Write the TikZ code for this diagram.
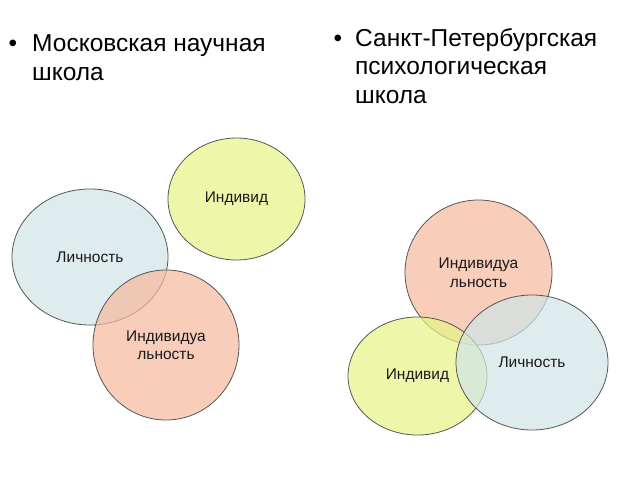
\documentclass[tikz,border=0pt]{standalone}
\usepackage{fontspec}
\setmainfont{Liberation Sans}
\usetikzlibrary{shapes.geometric}
\definecolor{lichn}{RGB}{208,229,232}
\definecolor{indiv}{RGB}{231,245,133}
\definecolor{indun}{RGB}{246,185,157}
\definecolor{rim}{RGB}{85,85,85}

\begin{document}
\begin{tikzpicture}[x=1pt,y=-1pt,
  sphere/.style={ellipse,draw=rim,line width=0.8pt,fill opacity=0.7,text opacity=1,
    inner sep=0pt,align=center,text=black!90,font=\fontsize{15.5}{18.5}\selectfont},
  head/.style={anchor=base west,inner sep=0pt,align=left,font=\fontsize{24.5}{28.5}\selectfont},
  dot/.style={anchor=base,inner sep=0pt,font=\fontsize{24.5}{28.5}\selectfont}]
  \useasboundingbox[fill=white] (0,0) rectangle (640,480);

  % moscow school (node base sits on the last line)
  \node[dot] (dotM) at (13,51) {\textbullet};
  \node[head] (headM) at (32,80) {Московская научная\\школа};

  \node[sphere,fill=lichn,minimum width=156,minimum height=136] (lichM) at (90,257) {Личность};
  \node[sphere,fill=indiv,minimum width=137,minimum height=122] (indM) at (236.5,199) {Индивид};
  \node[sphere,fill=indun,minimum width=146,minimum height=150] (indunM) at (166,345) {Индивидуа\\льность};

  % st petersburg school
  \node[dot] (dotP) at (338,46) {\textbullet};
  \node[head] (headP) at (355,103) {Санкт-Петербургская\\психологическая\\школа};

  \node[sphere,fill=indun,minimum width=147,minimum height=145] (indunP) at (478.5,272.5) {Индивидуа\\льность};
  \node[sphere,fill=indiv,minimum width=139,minimum height=118] (indP) at (417.5,376) {Индивид};
  \node[sphere,fill=lichn,minimum width=152,minimum height=135] (lichP) at (532,362.5) {Личность};
\end{tikzpicture}
\end{document}
